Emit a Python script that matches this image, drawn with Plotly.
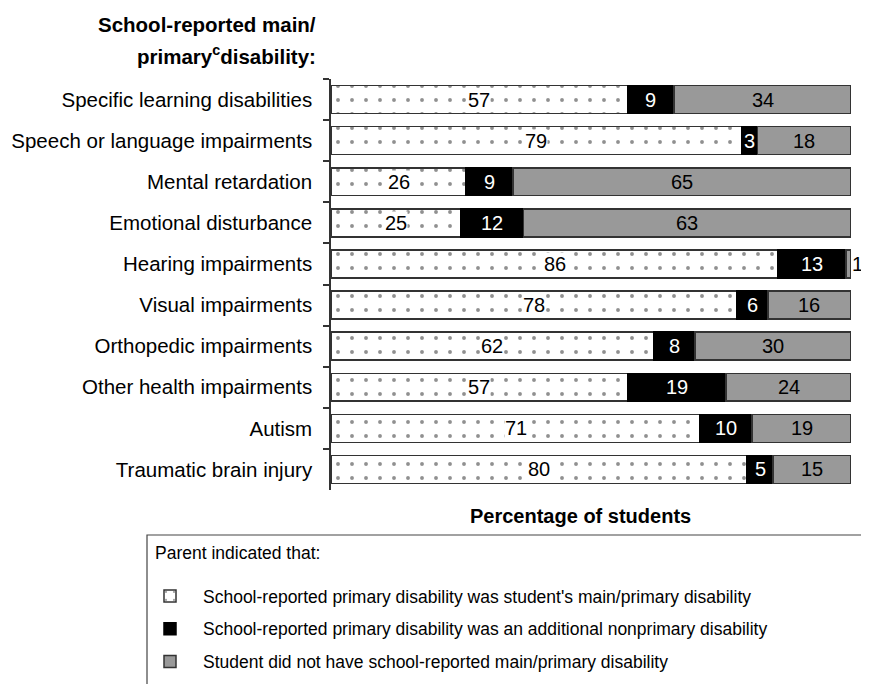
import plotly.graph_objects as go

categories = [
    "Specific learning disabilities",
    "Speech or language impairments",
    "Mental retardation",
    "Emotional disturbance",
    "Hearing impairments",
    "Visual impairments",
    "Orthopedic impairments",
    "Other health impairments",
    "Autism",
    "Traumatic brain injury",
]
main_primary = [57, 79, 26, 25, 86, 78, 62, 57, 71, 80]
additional = [9, 3, 9, 12, 13, 6, 8, 19, 10, 5]
not_have = [34, 18, 65, 63, 1, 16, 30, 24, 19, 15]

series_names = [
    "School-reported primary disability was student's main/primary disability",
    "School-reported primary disability was an additional nonprimary disability",
    "Student did not have school-reported main/primary disability",
]
legend_heading = "Parent indicated that:"

FONT = "Arial, Liberation Sans, sans-serif"
OFF = 8  # page body margin
W, H = 869 - OFF, 684 - OFF
L, R, T, B = 331 - OFF, 18, 79 - OFF, 194
PW = W - L - R
PH = H - T - B
SMALL = 3  # segments narrower than this get their label outside


def px2x(px):
    # px given in page coordinates
    return (px - OFF - L) / PW


def py2y(py):
    return (H - B - (py - OFF)) / PH


fig = go.Figure()
fig.add_trace(go.Bar(
    y=categories, x=main_primary, orientation="h", name=series_names[0],
    legendgroup="a",
    marker=dict(color="white", line=dict(color="#333333", width=1.5),
                pattern=dict(shape=".", fgcolor="#222222", bgcolor="white",
                             size=14, solidity=0.06)),
    hoverinfo="skip",
))
fig.add_trace(go.Bar(
    y=categories, x=additional, orientation="h", name=series_names[1],
    legendgroup="b",
    marker=dict(color="black", line=dict(color="black", width=1.5)),
    hoverinfo="skip",
))
fig.add_trace(go.Bar(
    y=categories, x=not_have, orientation="h", name=series_names[2],
    legendgroup="c",
    marker=dict(color="#999999", line=dict(color="#333333", width=1.5)),
    hoverinfo="skip",
))

annotations = []
for cat, a, b, c in zip(categories, main_primary, additional, not_have):
    annotations.append(dict(x=a / 2, y=cat, text=str(a), showarrow=False,
                            font=dict(size=20, color="black", family=FONT),
                            bgcolor="white", borderpad=0))
    annotations.append(dict(x=a + b / 2, y=cat, text=str(b), showarrow=False,
                            font=dict(size=20, color="white", family=FONT)))
    if c >= SMALL:
        annotations.append(dict(x=a + b + c / 2, y=cat, text=str(c), showarrow=False,
                                font=dict(size=20, color="black", family=FONT)))
    else:
        annotations.append(dict(x=a + b + c, y=cat, text=str(c), showarrow=False,
                                xanchor="left", xshift=-1,
                                font=dict(size=20, color="black", family=FONT)))

annotations += [
    dict(xref="paper", yref="paper", x=px2x(318), y=py2y(25), text="<b>School-reported main/</b>",
         showarrow=False, xanchor="right", yanchor="middle",
         font=dict(size=20.5, color="black", family=FONT)),
    dict(xref="paper", yref="paper", x=px2x(318), y=py2y(55),
         text="<b>primary<sup>c</sup>disability:</b>",
         showarrow=False, xanchor="right", yanchor="middle",
         font=dict(size=20.5, color="black", family=FONT)),
    dict(xref="paper", yref="paper", x=px2x(580), y=py2y(516),
         text="<b>Percentage of students</b>",
         showarrow=False, xanchor="center", yanchor="middle",
         font=dict(size=20, color="black", family=FONT)),
    dict(xref="paper", yref="paper", x=px2x(153), y=py2y(553),
         text=legend_heading,
         showarrow=False, xanchor="left", yanchor="middle",
         font=dict(size=17.5, color="black", family=FONT)),
]

fig.update_layout(
    width=W, height=H,
    margin=dict(l=L, r=R, t=T, b=B, pad=0, autoexpand=False),
    barmode="stack", bargap=0.32,
    plot_bgcolor="white", paper_bgcolor="white",
    font=dict(family=FONT, color="black", size=19),
    annotations=annotations,
    xaxis=dict(range=[0, 100], showgrid=False, zeroline=False, showticklabels=False,
               showline=False, ticks="", fixedrange=True, automargin=False),
    yaxis=dict(autorange="reversed", showgrid=False, zeroline=False, automargin=False,
               showline=True, linecolor="#333333", linewidth=1.5,
               ticks="outside", ticklen=6, tickwidth=1.5, tickcolor="#333333",
               tickson="boundaries", ticklabelstandoff=13,
               tickfont=dict(size=20.5, color="black", family=FONT)),
    showlegend=True,
    legend=dict(
        x=px2x(137), y=py2y(578), xanchor="left", yanchor="top",
        traceorder="grouped", tracegroupgap=7, itemwidth=56,
        font=dict(size=17.5, color="black", family=FONT),
        bgcolor="rgba(0,0,0,0)", borderwidth=0,
    ),
    shapes=[dict(type="rect", xref="paper", yref="paper",
                 x0=px2x(147), x1=px2x(900), y0=py2y(535), y1=py2y(720),
                 line=dict(color="#444444", width=1.2), fillcolor="rgba(0,0,0,0)")],
)

fig.write_html("out.html")
